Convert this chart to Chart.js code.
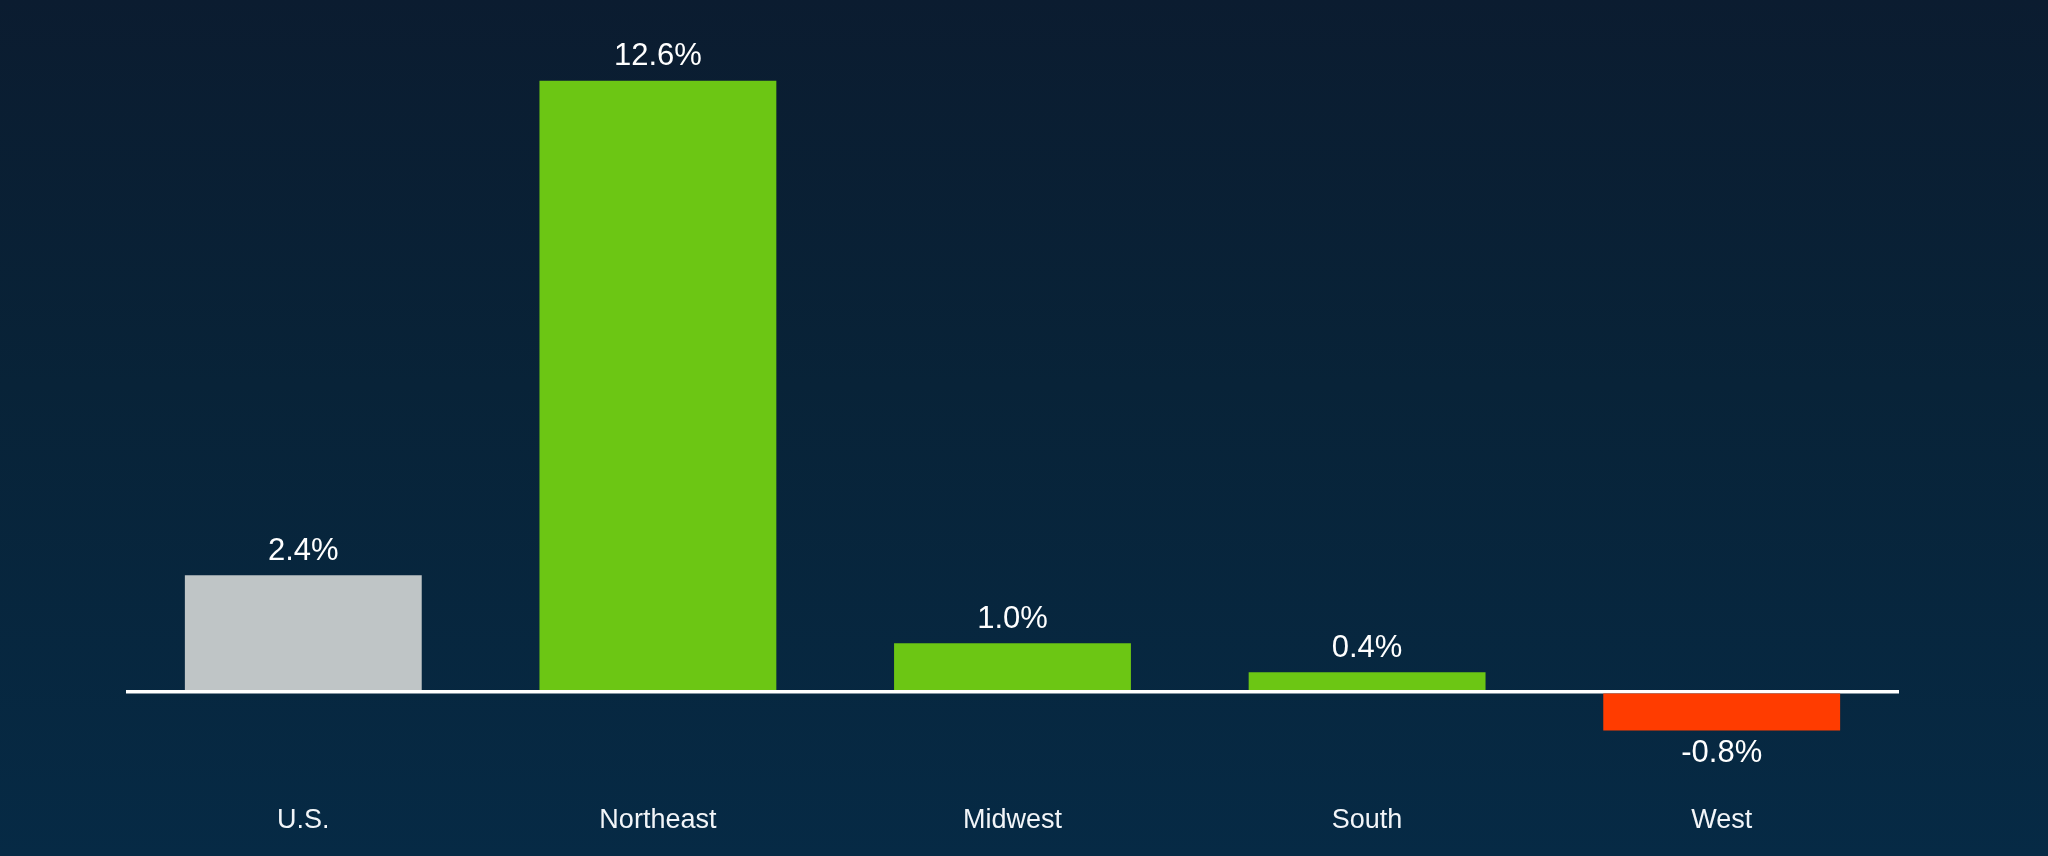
<!DOCTYPE html>
<html>
<head>
<meta charset="utf-8">
<script src="https://cdn.jsdelivr.net/npm/chart.js@4/dist/chart.umd.min.js"></script>
<style>
  html, body { margin: 0; padding: 0; }
  body { width: 2048px; height: 856px; overflow: hidden;
         background: linear-gradient(to bottom, #0b1c30 0%, #082338 45%, #062a45 100%); }
  .wrap { position: relative; width: 2048px; height: 856px; }
</style>
</head>
<body>
<div class="wrap"><canvas id="chart"></canvas></div>
<script>
// ── Data ─────────────────────────────────────────────────────────────────
const regions = ['U.S.', 'Northeast', 'Midwest', 'South', 'West'];
const growth  = [2.4, 12.6, 1.0, 0.4, -0.8];
const barColors = ['#bfc5c6', '#6cc614', '#6cc614', '#6cc614', '#ff3c00'];

const FONT = "'Liberation Sans', Arial, Helvetica, sans-serif";

// value labels above positive bars, below negative ones
const valueLabels = {
  id: 'valueLabels',
  afterDatasetsDraw(chart) {
    const ctx = chart.ctx;
    const meta = chart.getDatasetMeta(0);
    ctx.save();
    ctx.font = `31px ${FONT}`;
    ctx.fillStyle = '#ffffff';
    ctx.textAlign = 'center';
    ctx.textBaseline = 'middle';
    meta.data.forEach((bar, i) => {
      const v = growth[i];
      const y = v >= 0 ? bar.y - 24 : bar.y + 23;
      ctx.fillText(v.toFixed(1) + '%', bar.x, y);
    });
    ctx.restore();
  }
};

new Chart(document.getElementById('chart'), {
  type: 'bar',
  data: {
    labels: regions,
    datasets: [{
      data: growth,
      backgroundColor: barColors,
      borderWidth: 0,
      categoryPercentage: 1,
      barPercentage: 0.668
    }]
  },
  options: {
    responsive: true,
    maintainAspectRatio: false,
    animation: false,
    devicePixelRatio: 1,
    layout: { padding: { left: 126, right: 149, top: 13, bottom: 3 } },
    plugins: { legend: { display: false }, tooltip: { enabled: false } },
    scales: {
      x: {
        grid: { display: false, drawTicks: false },
        border: { display: false },
        ticks: { color: '#f2f5f8', font: { family: FONT, size: 27 }, padding: 16 }
      },
      y: {
        min: -2, max: 14,
        z: 1,
        ticks: { display: false, stepSize: 2 },
        border: { display: false },
        grid: {
          drawTicks: false,
          color: c => c.tick && c.tick.value === 0 ? '#ffffff' : 'rgba(0,0,0,0)',
          lineWidth: c => c.tick && c.tick.value === 0 ? 3.5 : 0
        }
      }
    }
  },
  plugins: [valueLabels]
});
</script>
</body>
</html>
